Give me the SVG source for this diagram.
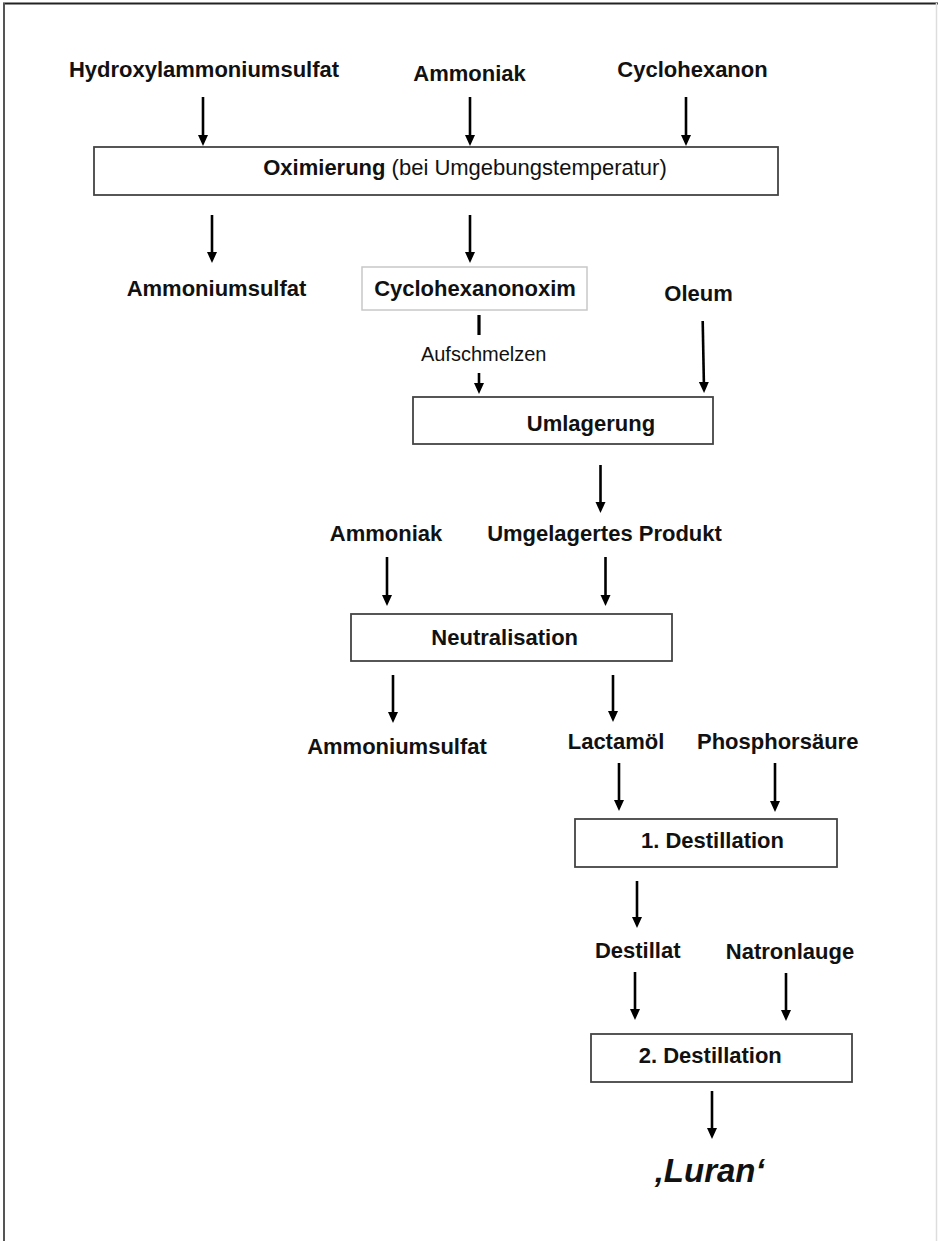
<svg xmlns="http://www.w3.org/2000/svg" width="938" height="1241" viewBox="0 0 938 1241">
  <style>
    .lbl { font-family: "Liberation Sans", Arial, sans-serif; font-size: 22px; font-weight: bold; fill: #111; text-anchor: middle; }
    .reg { font-weight: normal; }
    .small { font-family: "Liberation Sans", Arial, sans-serif; font-size: 20px; fill: #111; text-anchor: middle; }
    .box { fill: #fff; stroke: #444; stroke-width: 1.8; }
    .box2 { fill: #fff; stroke: #c8c8c8; stroke-width: 1.5; }
    .arr { stroke: #000; stroke-width: 2.6; fill: none; marker-end: url(#ah); }
    .stub { stroke: #000; stroke-width: 3.2; fill: none; }
  </style>
  <defs>
    <marker id="ah" markerUnits="userSpaceOnUse" markerWidth="12" markerHeight="11" viewBox="0 0 12 11" refX="7" refY="5" orient="auto">
      <path d="M0,0 L11,5 L0,10 z" fill="#000"/>
    </marker>
  </defs>
  <rect x="0" y="0" width="938" height="1241" fill="#fff"/>
  <!-- frame -->
  <line x1="3" y1="3.5" x2="938" y2="3.5" stroke="#222" stroke-width="2"/>
  <line x1="4" y1="3" x2="4" y2="1241" stroke="#555" stroke-width="2"/>
  <line x1="936.5" y1="3" x2="936.5" y2="1241" stroke="#ddd" stroke-width="1.5"/>

  <g id="connectors">
    <line class="arr" x1="203" y1="97" x2="203" y2="142"/>
    <line class="arr" x1="470" y1="97" x2="470" y2="142"/>
    <line class="arr" x1="686" y1="97" x2="686" y2="142"/>
    <line class="arr" x1="212" y1="215" x2="212" y2="259"/>
    <line class="arr" x1="470" y1="215" x2="470" y2="259"/>
    <line class="stub" x1="479" y1="315" x2="479" y2="335"/>
    <line class="arr" x1="479" y1="373" x2="479" y2="390"/>
    <line class="arr" x1="702.7" y1="321" x2="704" y2="389"/>
    <line class="arr" x1="600.5" y1="465" x2="600.5" y2="509"/>
    <line class="arr" x1="387" y1="557" x2="387" y2="602"/>
    <line class="arr" x1="605.5" y1="557" x2="605.5" y2="602"/>
    <line class="arr" x1="393" y1="675" x2="393" y2="719"/>
    <line class="arr" x1="613" y1="675" x2="613" y2="718"/>
    <line class="arr" x1="619" y1="763" x2="619" y2="807"/>
    <line class="arr" x1="775" y1="763" x2="775" y2="808"/>
    <line class="arr" x1="637" y1="881" x2="637" y2="924"/>
    <line class="arr" x1="635" y1="972" x2="635" y2="1016"/>
    <line class="arr" x1="786" y1="973" x2="786" y2="1017"/>
    <line class="arr" x1="712" y1="1091" x2="712" y2="1135"/>
  </g>

  <g id="in-hydroxylammoniumsulfat"><text class="lbl" x="204" y="77">Hydroxylammoniumsulfat</text></g>
  <g id="in-ammoniak1"><text class="lbl" x="469.5" y="81">Ammoniak</text></g>
  <g id="in-cyclohexanon"><text class="lbl" x="692.5" y="77">Cyclohexanon</text></g>

  <g id="oximierung">
    <rect class="box" x="94" y="147" width="684" height="48"/>
    <text class="lbl" x="465" y="175">Oximierung<tspan class="reg"> (bei Umgebungstemperatur)</tspan></text>
  </g>

  <g id="out-ammoniumsulfat1"><text class="lbl" x="216.5" y="296">Ammoniumsulfat</text></g>
  <g id="cyclohexanonoxim">
    <rect class="box2" x="362" y="267" width="225" height="43"/>
    <text class="lbl" x="475" y="296">Cyclohexanonoxim</text>
  </g>
  <g id="in-oleum"><text class="lbl" x="698.5" y="301">Oleum</text></g>
  <g id="label-aufschmelzen"><text class="small" x="483.7" y="361">Aufschmelzen</text></g>

  <g id="umlagerung">
    <rect class="box" x="413" y="397" width="300" height="47"/>
    <text class="lbl" x="591" y="431">Umlagerung</text>
  </g>

  <g id="in-ammoniak2"><text class="lbl" x="386" y="541">Ammoniak</text></g>
  <g id="umgelagertes-produkt"><text class="lbl" x="604.5" y="541">Umgelagertes Produkt</text></g>

  <g id="neutralisation">
    <rect class="box" x="351" y="614" width="321" height="47"/>
    <text class="lbl" x="504.7" y="645">Neutralisation</text>
  </g>

  <g id="out-ammoniumsulfat2"><text class="lbl" x="397" y="754">Ammoniumsulfat</text></g>
  <g id="lactamoel"><text class="lbl" x="616" y="749">Lactamöl</text></g>
  <g id="in-phosphorsaeure"><text class="lbl" x="777.7" y="749">Phosphorsäure</text></g>

  <g id="destillation1">
    <rect class="box" x="575" y="819" width="262" height="48"/>
    <text class="lbl" x="712.5" y="848">1. Destillation</text>
  </g>

  <g id="destillat"><text class="lbl" x="637.7" y="958">Destillat</text></g>
  <g id="in-natronlauge"><text class="lbl" x="790" y="959">Natronlauge</text></g>

  <g id="destillation2">
    <rect class="box" x="591" y="1034" width="261" height="48"/>
    <text class="lbl" x="710.3" y="1063">2. Destillation</text>
  </g>

  <g id="luran"><text class="lbl" x="709.7" y="1182" style="font-size:33px;font-style:italic">‚Luran‘</text></g>
</svg>
